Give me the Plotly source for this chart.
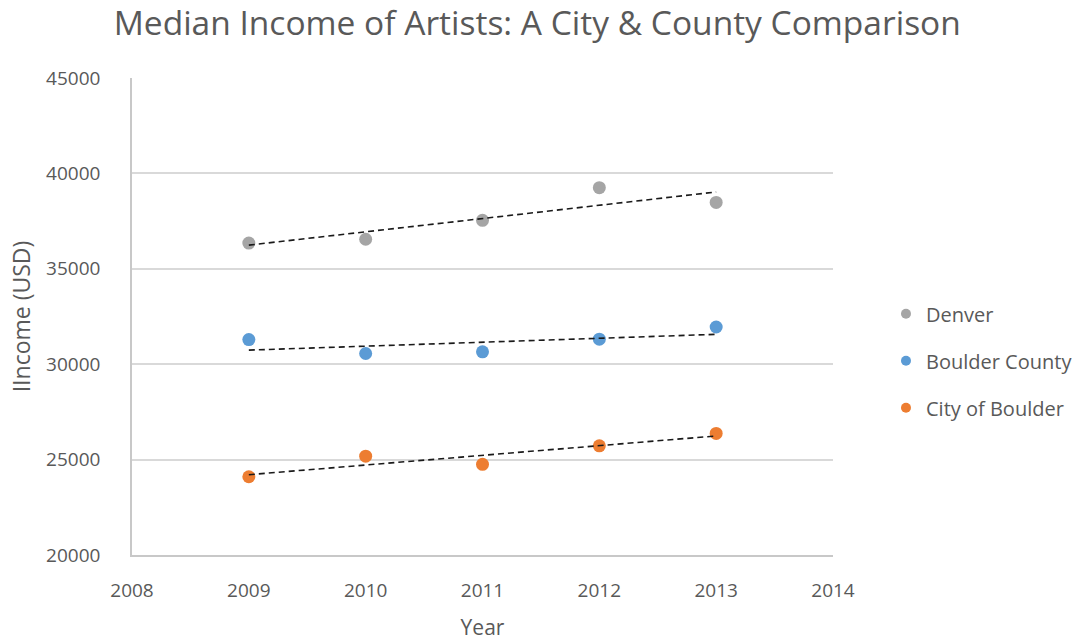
import numpy as np
import plotly.graph_objects as go

# Median income of artists by year
years = [2009, 2010, 2011, 2012, 2013]
denver = [36350, 36550, 37540, 39250, 38480]
boulder_county = [31290, 30560, 30650, 31310, 31950]
city_of_boulder = [24100, 25180, 24750, 25720, 26370]

series = [
    ("Denver", denver, "#a5a5a5"),
    ("Boulder County", boulder_county, "#5b9bd5"),
    ("City of Boulder", city_of_boulder, "#ed7d31"),
]

FONT = "Open Sans"
TEXT = "#595959"

fig = go.Figure()

for i, (name, vals, color) in enumerate(series):
    # data points
    fig.add_trace(go.Scatter(
        x=years, y=vals, mode="markers", name=name,
        marker=dict(color=color, size=13),
        showlegend=False, legendgroup=name,
    ))
    # linear trendline
    slope, intercept = np.polyfit(years, vals, 1)
    xs = np.array([years[0], years[-1]])
    fig.add_trace(go.Scatter(
        x=xs, y=slope * xs + intercept, mode="lines",
        line=dict(color="#1a1a1a", width=1.6, dash="6px,4px"),
        showlegend=False, hoverinfo="skip",
    ))

# legend entries with smaller symbols
for name, vals, color in series:
    fig.add_trace(go.Scatter(
        x=[None], y=[None], mode="markers", name=name,
        marker=dict(color=color, size=10), legendgroup=name,
        showlegend=True,
    ))

fig.update_layout(
    width=1081, height=641,
    margin=dict(l=132, r=248, t=78, b=86),
    paper_bgcolor="white", plot_bgcolor="white",
    font=dict(family=FONT, color=TEXT, size=19),
    title=dict(
        text="Median Income of Artists: A City & County Comparison",
        x=0.497, xref="container", y=0.963, yref="container",
        xanchor="center", yanchor="middle",
        font=dict(family=FONT, size=33.5, color=TEXT),
    ),
    xaxis=dict(
        range=[2008, 2014], dtick=1, tick0=2008, tickformat="d",
        showgrid=False, zeroline=False, automargin=False,
        showline=True, linecolor="#c8c8c8", linewidth=1.5,
        ticks="", ticklabelstandoff=17,
        tickfont=dict(size=19, color=TEXT),
        title=dict(text="Year", font=dict(size=21, color=TEXT), standoff=20),
    ),
    yaxis=dict(
        range=[20000, 45000], dtick=5000, tick0=20000, tickformat="d",
        showgrid=True, gridcolor="#d9d9d9", gridwidth=1.5, zeroline=False,
        automargin=False,
        showline=True, linecolor="#c8c8c8", linewidth=1.5,
        ticks="", ticklabelstandoff=26,
        tickfont=dict(size=19, color=TEXT),
        title=dict(text="IIncome (USD)", font=dict(size=23, color=TEXT), standoff=9),
    ),
    legend=dict(
        xref="container", yref="container",
        x=0.8196, y=0.541, xanchor="left", yanchor="top",
        font=dict(size=20, color=TEXT),
        tracegroupgap=18, itemsizing="trace",
        bgcolor="rgba(0,0,0,0)",
    ),
)

fig.write_html("out.html")
